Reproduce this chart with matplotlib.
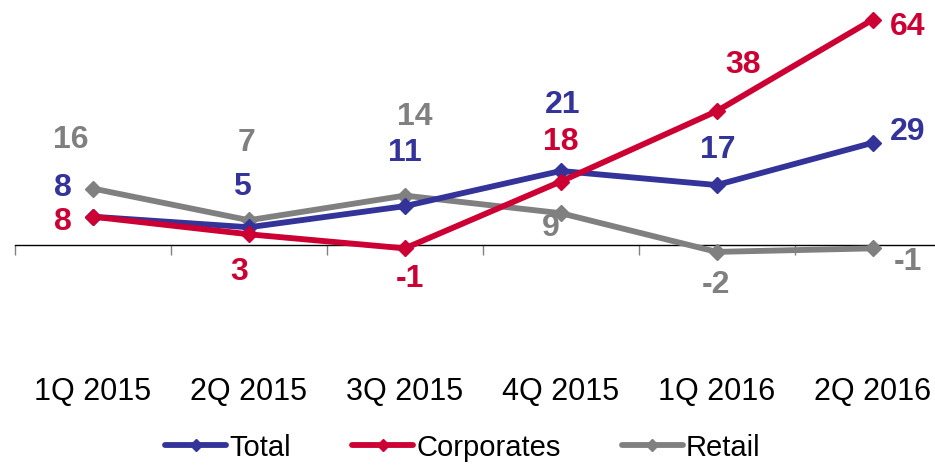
import matplotlib
matplotlib.use("Agg")
import matplotlib.pyplot as plt

plt.rcParams['font.family'] = ['Liberation Sans', 'DejaVu Sans']

quarters = ['1Q 2015', '2Q 2015', '3Q 2015', '4Q 2015', '1Q 2016', '2Q 2016']
total = [8, 5, 11, 21, 17, 29]
corporates = [8, 3, -1, 18, 38, 64]
retail = [16, 7, 14, 9, -2, -1]

# label offsets in pixels (dx, dy), placed by hand like the original
total_off = [(-30, 29), (-7, 40), (0, 53), (2, 66), (1, 35), (35, 11)]
corp_off = [(-30, -5), (-10, -38), (5, -31), (0, 40), (26, 46), (35, -7)]
retail_off = [(-22, 49), (-2, 77), (10, 79), (-10, -15), (-1, -33), (35, -14)]

c_total = '#333399'
c_corp = '#CC0033'
c_retail = '#808080'

fig = plt.figure(figsize=(9.35, 4.66), dpi=100)
ax = fig.add_axes([15 / 935, 1 - 368 / 466, 1 - 15 / 935, (368 - 5.6) / 466])

x = list(range(len(quarters)))
series = [
    ('Total', total, c_total, total_off),
    ('Corporates', corporates, c_corp, corp_off),
    ('Retail', retail, c_retail, retail_off),
]
# draw retail first so it sits beneath, like the original
for name, vals, col, off in [series[2], series[0], series[1]]:
    ax.plot(x, vals, color=col, lw=4.2, marker='D', ms=8.5, label=name,
            solid_capstyle='round', zorder=3)
    for xi, v, (dx, dy) in zip(x, vals, off):
        ax.annotate(str(v), (xi, v), xytext=(dx, dy), textcoords='offset pixels',
                    ha='center', va='center', fontsize=23, fontweight='bold',
                    color=col)

ax.set_xlim(-0.5, 5.40)
ax.set_ylim(-35, 68)

for s in ['top', 'right', 'left']:
    ax.spines[s].set_visible(False)
ax.spines['bottom'].set_position(('data', 0))
ax.spines['bottom'].set_color('black')
ax.spines['bottom'].set_linewidth(1.0)
ax.set_yticks([])

ax.set_xticks(x)
ax.set_xticklabels(quarters)
ax.set_xticks([i - 0.5 for i in range(len(quarters))], minor=True)
ax.tick_params(axis='x', which='major', length=0, pad=95, labelsize=22)
ax.tick_params(axis='x', which='minor', length=7, width=1, color='#808080',
               direction='out')

handles, labels = ax.get_legend_handles_labels()
order = [labels.index(n) for n in ['Total', 'Corporates', 'Retail']]
fig.legend([handles[i] for i in order], [labels[i] for i in order],
           loc='lower center', bbox_to_anchor=(0.495, -0.022), ncol=3,
           frameon=False, fontsize=21, handlelength=2.1, handletextpad=0.1,
           columnspacing=2.1, borderpad=0, markerscale=0.75)

fig.savefig('out.png', dpi=100)
